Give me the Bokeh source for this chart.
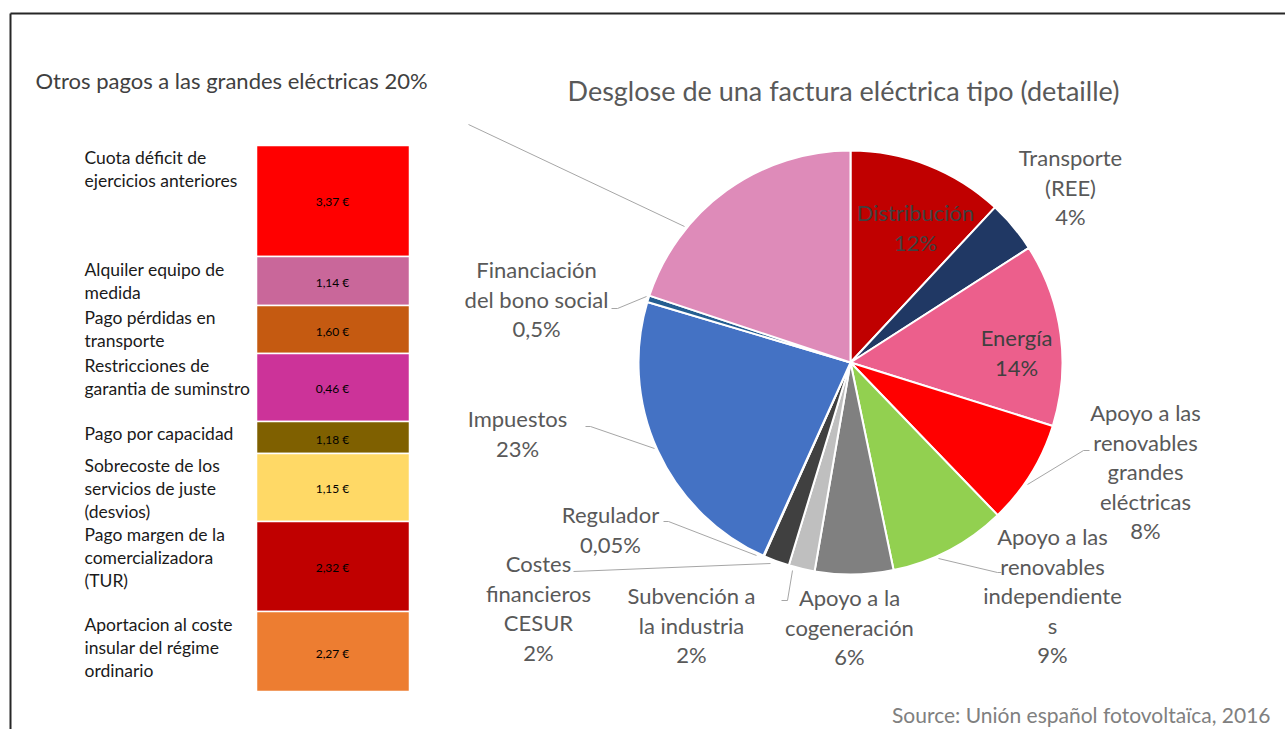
import math
from bokeh.plotting import figure
from bokeh.models import Range1d
from bokeh.core.properties import value
from bokeh.embed import file_html
from bokeh.resources import INLINE

# ---------------- data ----------------
slice_names = ["Distribución", "Transporte\n(REE)", "Energía", "Apoyo a las\nrenovables\ngrandes\neléctricas",
               "Apoyo a las\nrenovables\nindependiente\ns", "Apoyo a la\ncogeneración", "Subvención a\nla industria",
               "Costes\nfinancieros\nCESUR", "Regulador", "Impuestos", "Financiación\ndel bono social",
               "Otros pagos a las grandes eléctricas"]
slice_pct = [12, 4, 14, 8, 9, 6, 2, 2, 0.05, 23, 0.5, 20]
slice_colors = ["#C00000", "#203864", "#EC5F8C", "#FF0000", "#92D050", "#808080", "#BFBFBF",
                "#404040", "#1F1F1F", "#4472C4", "#255E91", "#DE8BB9"]

other_names = ["Cuota déficit de\nejercicios anteriores", "Alquiler equipo de\nmedida", "Pago pérdidas en\ntransporte",
               "Restricciones de\ngarantia de suminstro", "Pago por capacidad",
               "Sobrecoste de los\nservicios de juste\n(desvios)", "Pago margen de la\ncomercializadora\n(TUR)",
               "Aportacion al coste\ninsular del régime\nordinario"]
other_values = [3.37, 1.14, 1.60, 0.46, 1.18, 1.15, 2.32, 2.27]
other_colors = ["#FF0000", "#C9679A", "#C55A11", "#CC3399", "#7F6000", "#FFD966", "#C00000", "#ED7D31"]

title_main = "Desglose de una factura eléctrica tipo (detaille)"
source_text = "Source: Unión español fotovoltaïca, 2016"

# ---------------- layout ----------------
W, H = 1285, 729
FONT = "Lato"
def Y(sy):  # screen y -> data y
    return H - sy

p = figure(width=W, height=H, output_backend="svg", toolbar_location=None,
           x_range=Range1d(0, W), y_range=Range1d(0, H), min_border=0)
p.axis.visible = False
p.grid.visible = False
p.outline_line_color = None
p.background_fill_color = "white"

# frame
p.line([10, 10], [Y(13), Y(729)], line_color="#262626", line_width=2)
p.line([10, 1285], [Y(13), Y(13)], line_color="#262626", line_width=2)

# pie
cx, cy, R = 850, Y(362), 212
total = sum(slice_pct)
starts, ends = [], []
cum = 0.0
for v in slice_pct:
    starts.append(math.pi / 2 - 2 * math.pi * cum / total)
    cum += v
    ends.append(math.pi / 2 - 2 * math.pi * cum / total)
p.wedge(x=cx, y=cy, radius=R, start_angle=starts, end_angle=ends, direction="clock",
        fill_color=slice_colors, line_color="white", line_width=2)

def fmt_pct(v):
    return f"{v:g}".replace(".", ",") + "%"

# label positions (center x, first-line y) for slices 0..10
label_pos = [(915, 212), (1070, 157), (1016, 337), (1145, 412), (1052, 536), (849, 597),
             (691, 595), (538, 563), (610, 514), (517, 418), (536, 269)]
lx, ly, lt, lc = [], [], [], []
for i, (px, py) in enumerate(label_pos):
    lines = slice_names[i].split("\n") + [fmt_pct(slice_pct[i])]
    for j, t in enumerate(lines):
        lx.append(px); ly.append(Y(py + j * 29.6)); lt.append(t)
        lc.append("#404040" if i in (0, 2) else "#595959")
p.text(x=lx, y=ly, text=lt, text_color=lc, text_font=value(FONT), text_font_size="22px",
       text_align="center", text_baseline="middle")

# leader lines
leaders = [
    [(684, 226), (468, 124)],
    [(646, 296), (617, 308), (611, 308)],
    [(654, 448), (590, 426), (585, 426)],
    [(756, 555), (668, 521), (663, 521)],
    [(770, 563), (573, 571)],
    [(792, 570), (787, 600), (781, 600)],
    [(938, 558), (997, 572), (1001, 572)],
    [(1027, 484), (1083, 450), (1089, 450)],
]
p.multi_line(xs=[[a for a, b in seg] for seg in leaders], ys=[[Y(b) for a, b in seg] for seg in leaders],
             line_color="#A6A6A6", line_width=1)

# pie title
p.text(x=[843], y=[Y(90)], text=[title_main], text_color="#595959", text_font=value(FONT),
       text_font_size="27px", text_align="center", text_baseline="middle")

# left title (the "Otros" slice)
p.text(x=[35], y=[Y(80)], text=[slice_names[-1] + " " + fmt_pct(slice_pct[-1])], text_color="#404040",
       text_font=value(FONT), text_font_size="22px", text_align="left", text_baseline="middle")

# left stacked column of other payments
row_h = [111, 49, 48, 68, 32, 68, 90, 80]
top0 = 145
tops, bots = [], []
t = top0
for h in row_h:
    tops.append(Y(t)); bots.append(Y(t + h)); t += h
p.quad(left=256, right=409, top=tops, bottom=bots, fill_color=other_colors, line_color="white", line_width=1.5)
vlabels = [f"{v:.2f} €".replace(".", ",") for v in other_values]
vy = [Y(s) for s in [201, 282, 331, 388, 439, 488, 567, 653]]
p.text(x=[332] * len(vlabels), y=vy, text=vlabels, text_color="#000000", text_font=value(FONT),
       text_font_size="12px", text_align="center", text_baseline="middle")

name_top = [157, 269, 317, 365, 433, 465, 534, 624]
nx, ny, nt = [], [], []
for i, nm in enumerate(other_names):
    for j, line in enumerate(nm.split("\n")):
        nx.append(84); ny.append(Y(name_top[i] + j * 23)); nt.append(line)
p.text(x=nx, y=ny, text=nt, text_color="#1A1A1A", text_font=value(FONT), text_font_size="17.5px",
       text_align="left", text_baseline="middle")

# source
p.text(x=[1270], y=[Y(714)], text=[source_text], text_color="#808080", text_font=value(FONT),
       text_font_size="21px", text_align="right", text_baseline="middle")

open("out.html", "w").write(file_html(p, INLINE))
